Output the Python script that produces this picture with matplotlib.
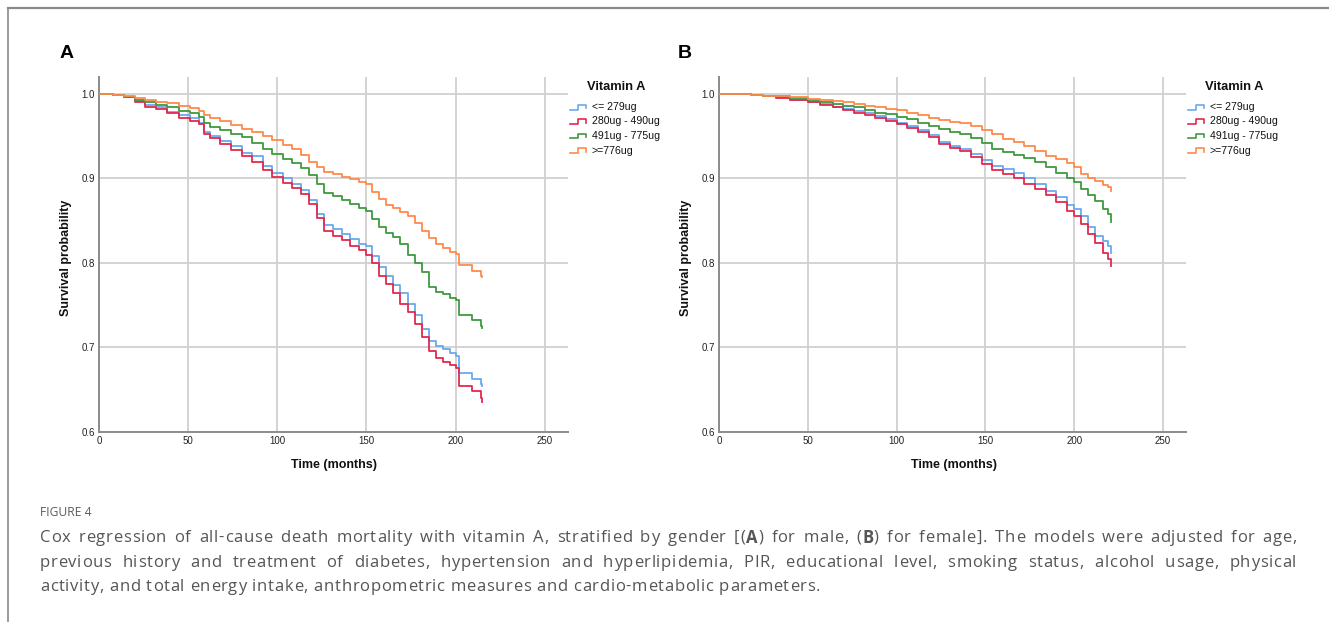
import matplotlib
matplotlib.use("Agg")
import matplotlib.pyplot as plt
from matplotlib.lines import Line2D

W, H = 1329, 622

# ---------------- data ----------------
categories = ["<= 279ug", "280ug - 490ug", "491ug - 775ug", ">=776ug"]
colors = ["#6aa9ee", "#e3294f", "#3f9a3f", "#ff8a4c"]

# Panel A (male)
a_t_low = [0, 8, 14, 20, 26, 32, 38, 45, 51, 56, 59, 62, 68, 74, 80, 86, 92, 97, 103, 108,
           113, 118, 122, 126, 131, 136, 141, 146, 150, 153, 157, 161, 165, 169, 173, 177,
           181, 185, 189, 193, 197, 200, 202, 209, 214, 215]
a_blue = [1.0, 0.999, 0.996, 0.992, 0.987, 0.984, 0.979, 0.975, 0.971, 0.966, 0.955, 0.950,
          0.944, 0.938, 0.930, 0.926, 0.915, 0.907, 0.900, 0.894, 0.886, 0.875, 0.858, 0.845,
          0.840, 0.834, 0.828, 0.823, 0.820, 0.808, 0.795, 0.785, 0.774, 0.764, 0.752, 0.738,
          0.722, 0.708, 0.702, 0.698, 0.694, 0.690, 0.670, 0.663, 0.657, 0.655]
a_red = [1.0, 0.999, 0.996, 0.991, 0.985, 0.982, 0.977, 0.972, 0.968, 0.964, 0.952, 0.948,
         0.941, 0.934, 0.926, 0.920, 0.910, 0.902, 0.895, 0.889, 0.881, 0.870, 0.853, 0.838,
         0.832, 0.827, 0.820, 0.815, 0.810, 0.800, 0.785, 0.775, 0.764, 0.752, 0.742, 0.728,
         0.712, 0.696, 0.688, 0.683, 0.679, 0.676, 0.654, 0.648, 0.640, 0.635]
a_green = [1.0, 0.999, 0.996, 0.993, 0.990, 0.987, 0.984, 0.980, 0.977, 0.973, 0.965, 0.961,
           0.957, 0.953, 0.949, 0.942, 0.935, 0.929, 0.923, 0.918, 0.912, 0.904, 0.893, 0.883,
           0.879, 0.875, 0.870, 0.865, 0.861, 0.852, 0.843, 0.836, 0.831, 0.822, 0.810, 0.800,
           0.789, 0.771, 0.766, 0.763, 0.758, 0.756, 0.738, 0.733, 0.726, 0.723]
a_orange = [1.0, 0.999, 0.997, 0.995, 0.993, 0.991, 0.989, 0.986, 0.983, 0.980, 0.975, 0.972,
            0.968, 0.963, 0.958, 0.955, 0.950, 0.946, 0.940, 0.935, 0.928, 0.920, 0.913, 0.908,
            0.905, 0.902, 0.899, 0.896, 0.893, 0.884, 0.876, 0.869, 0.865, 0.860, 0.855, 0.847,
            0.838, 0.829, 0.823, 0.818, 0.813, 0.811, 0.797, 0.791, 0.785, 0.783]

# Panel B (female)
b_t = [0, 14, 18, 25, 32, 40, 50, 57, 64, 70, 76, 82, 88, 94, 100, 106, 112, 118, 124, 130,
       136, 142, 148, 154, 160, 166, 172, 178, 184, 190, 196, 200, 204, 208, 212, 216, 219, 221]
b_blue = [1.0, 1.0, 0.999, 0.997, 0.996, 0.993, 0.990, 0.988, 0.985, 0.982, 0.980, 0.977,
          0.974, 0.970, 0.966, 0.962, 0.957, 0.951, 0.943, 0.938, 0.935, 0.929, 0.922, 0.915,
          0.911, 0.906, 0.900, 0.893, 0.885, 0.878, 0.869, 0.864, 0.855, 0.842, 0.832, 0.826,
          0.820, 0.812]
b_red = [1.0, 1.0, 0.999, 0.997, 0.995, 0.993, 0.990, 0.987, 0.984, 0.981, 0.978, 0.975,
         0.972, 0.968, 0.964, 0.960, 0.955, 0.949, 0.941, 0.936, 0.932, 0.925, 0.917, 0.910,
         0.905, 0.900, 0.894, 0.887, 0.880, 0.872, 0.862, 0.856, 0.846, 0.834, 0.824, 0.812,
         0.805, 0.796]
b_green = [1.0, 1.0, 0.999, 0.998, 0.997, 0.995, 0.993, 0.991, 0.988, 0.986, 0.984, 0.981,
           0.978, 0.976, 0.973, 0.970, 0.966, 0.962, 0.958, 0.955, 0.952, 0.948, 0.942, 0.935,
           0.931, 0.928, 0.924, 0.919, 0.913, 0.907, 0.900, 0.896, 0.888, 0.880, 0.873, 0.864,
           0.858, 0.849]
b_orange = [1.0, 1.0, 0.999, 0.998, 0.997, 0.996, 0.994, 0.993, 0.992, 0.990, 0.988, 0.986,
            0.984, 0.982, 0.981, 0.978, 0.975, 0.972, 0.969, 0.967, 0.965, 0.962, 0.957, 0.952,
            0.947, 0.943, 0.938, 0.932, 0.927, 0.923, 0.918, 0.914, 0.905, 0.900, 0.897, 0.892,
            0.890, 0.885]

x_ticks = [0, 50, 100, 150, 200, 250]
y_ticks = [0.6, 0.7, 0.8, 0.9, 1.0]
y_tick_labels = ["0.6", "0.7", "0.8", "0.9", "1.0"]
legend_title = "Vitamin A"
x_label = "Time (months)"
y_label = "Survival probability"
panel_labels = ["A", "B"]

caption_head = "FIGURE 4"
caption_lines = [
    "Cox regression of all-cause death mortality with vitamin A, stratified by gender [(**A**) for male, (**B**) for female]. The models were adjusted for age,",
    "previous history and treatment of diabetes, hypertension and hyperlipidemia, PIR, educational level, smoking status, alcohol usage, physical",
    "activity, and total energy intake, anthropometric measures and cardio-metabolic parameters.",
]

# ---------------- figure ----------------
CF = "Liberation Sans"
fig = plt.figure(figsize=(W / 100, H / 100), dpi=100)
fig.patch.set_facecolor("white")


def fx(px):
    return px / W


def fy(py):
    return 1 - py / H


# frame lines
fig.add_artist(Line2D([fx(8), fx(1329)], [fy(8), fy(8)], color="#8a8a8a", lw=1.6))
fig.add_artist(Line2D([fx(8), fx(8)], [fy(8), fy(622)], color="#8a8a8a", lw=1.2))

panels = [
    dict(left=99, right=568, times=a_t_low, series=[a_blue, a_red, a_green, a_orange],
         leg_x=570, label_xy=(67, 53)),
    dict(left=719, right=1186, times=b_t, series=[b_blue, b_red, b_green, b_orange],
         leg_x=1188, label_xy=(685, 53)),
]

top_px, bot_px = 77, 432
for i, p in enumerate(panels):
    ax = fig.add_axes([fx(p["left"]), fy(bot_px), (p["right"] - p["left"]) / W,
                       (bot_px - top_px) / H])
    for s, vals in enumerate(p["series"]):
        ax.plot(p["times"], vals, drawstyle="steps-post", color=colors[s], lw=1.3, zorder=3)
    ax.set_xlim(0, 263)
    ax.set_ylim(0.6, 1.02)
    ax.set_xticks(x_ticks)
    ax.set_xticklabels([str(t) for t in x_ticks], fontsize=7, family=CF, color="#222222")
    ax.set_yticks(y_ticks)
    ax.set_yticklabels(y_tick_labels, fontsize=7, family=CF, color="#222222")
    ax.tick_params(length=0, pad=3)
    ax.grid(True, color="#d0d0d0", lw=1.3, zorder=0)
    ax.set_axisbelow(True)
    for sp in ["top", "right"]:
        ax.spines[sp].set_visible(False)
    for sp in ["left", "bottom"]:
        ax.spines[sp].set_color("#8c8c8c")
        ax.spines[sp].set_linewidth(1.4)
    # axis labels
    fig.text(fx(p["left"] + 235), fy(465), x_label, ha="center",
             va="center", fontsize=9, fontweight="bold", family=CF, color="#111111")
    fig.text(fx(p["left"] - 33), fy(258), y_label, ha="center",
             va="center", rotation=90, fontsize=9, fontweight="bold", family=CF,
             color="#111111")
    # panel label
    lx, ly = p["label_xy"]
    fig.text(fx(lx), fy(ly), panel_labels[i], ha="center", va="center", fontsize=14,
             fontweight="bold", family=CF, color="#000000")
    # legend
    lgx = p["leg_x"]
    fig.text(fx(lgx + 46), fy(87), legend_title, ha="center", va="center", fontsize=9.3,
             fontweight="bold", family=CF, color="#111111")
    for k, cat in enumerate(categories):
        yy = 107 + k * 14.5
        hx = [lgx, lgx + 8, lgx + 8, lgx + 16, lgx + 16]
        hy = [yy + 2.5, yy + 2.5, yy - 2.5, yy - 2.5, yy + 1]
        fig.add_artist(Line2D([fx(v) for v in hx], [fy(v) for v in hy], color=colors[k],
                              lw=1.2))
        fig.text(fx(lgx + 22), fy(yy), cat, ha="left", va="center", fontsize=7.6,
                 family=CF, color="#111111")

# ---------------- caption ----------------
CAP = "Open Sans"
CAP_SIZE = 12
TRACK = 0.7  # extra px between characters
fig.text(fx(40), fy(513), caption_head, ha="left", va="center", fontsize=8.7,
         family=CAP, color="#5a5a5a")

renderer = fig.canvas.get_renderer()
_wcache = {}


def char_width(ch, wt):
    key = (ch, wt)
    if key not in _wcache:
        t1 = fig.text(0, 0, "H" + ch + "H", fontsize=CAP_SIZE, family=CAP, fontweight=wt)
        t2 = fig.text(0, 0, "HH", fontsize=CAP_SIZE, family=CAP, fontweight=wt)
        _wcache[key] = t1.get_window_extent(renderer).width - t2.get_window_extent(renderer).width
        t1.remove()
        t2.remove()
    return _wcache[key]


def parse_word(word):
    segs = []
    parts = word.split("**")
    for j, part in enumerate(parts):
        if part:
            segs.append((part, "bold" if j % 2 == 1 else "normal"))
    return segs


def word_width(segs):
    w = 0
    for txt, wt in segs:
        for ch in txt:
            w += char_width(ch, wt) + TRACK
    return w


space_w = char_width(" ", "normal") + TRACK
x0_px, x1_px = 40, 1297
line_y = [538, 563, 587]
for li, line in enumerate(caption_lines):
    words = [parse_word(w) for w in line.split(" ")]
    widths = [word_width(s) for s in words]
    total = sum(widths)
    n = len(words)
    if li < len(caption_lines) - 1 and n > 1:
        gap = (x1_px - x0_px - total) / (n - 1)
    else:
        gap = space_w
    xcur = x0_px
    for segs, wsum in zip(words, widths):
        xx = xcur
        for txt, wt in segs:
            for ch in txt:
                fig.text(fx(xx), fy(line_y[li]), ch, ha="left", va="center",
                         fontsize=CAP_SIZE, family=CAP, fontweight=wt, color="#555555")
                xx += char_width(ch, wt) + TRACK
        xcur += wsum + gap

fig.savefig("out.png", dpi=100, facecolor="white")
